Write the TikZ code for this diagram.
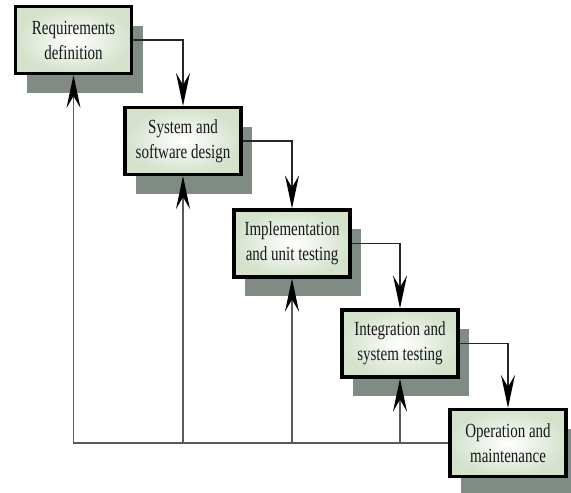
\documentclass[tikz,border=0pt]{standalone}
\usepackage{fontspec}
\setmainfont{Liberation Serif}[FakeStretch=0.75]
\usetikzlibrary{arrows.meta,shadows}
\definecolor{shadowc}{RGB}{128,139,132}
\definecolor{boxgreen}{RGB}{212,226,204}
\definecolor{fbline}{RGB}{90,90,90}
\tikzset{
  phase/.style={draw=black, line width=3.2pt, shade, inner color=white, outer color=boxgreen,
    minimum width=116pt, minimum height=67pt, inner sep=0pt, align=center,
    font=\fontsize{20}{25}\selectfont, text=black!90,
    drop shadow={shadow xshift=11pt, shadow yshift=-19pt, opacity=1, fill=shadowc}},
  tip/.style={-{Stealth[length=33pt,width=14pt,inset=12pt,color=black]}},
  fwd/.style={tip, draw=black!85, line width=1.2pt},
  fb/.style={tip, draw=fbline, line width=1.4pt}
}
\begin{document}
\begin{tikzpicture}[x=1pt,y=-1pt]
\clip (0,0) rectangle (571,493);
\fill[white] (0,0) rectangle (571,493);
\node[phase] (b1) at (73.5,40) {Requirements\\definition};
\node[phase] (b2) at (183,141) {System and\\software design};
\node[phase] (b3) at (292,243.5) {Implementation\\and unit testing};
\node[phase] (b4) at (400,343.5) {Integration and\\system testing};
\node[phase] (b5) at (508,443) {Operation and\\maintenance};
\draw[fwd] (b1.east) -| (b2.north);
\draw[fwd] (b2.east) -| (b3.north);
\draw[fwd] (b3.east) -| (b4.north);
\draw[fwd] (b4.east) -| (b5.north);
\draw[fb] (b5.west) -| (b1.south);
\draw[fb] (b2.south |- b5.west) -- (b2.south);
\draw[fb] (b3.south |- b5.west) -- (b3.south);
\draw[fb] (b4.south |- b5.west) -- (b4.south);
\end{tikzpicture}
\end{document}
